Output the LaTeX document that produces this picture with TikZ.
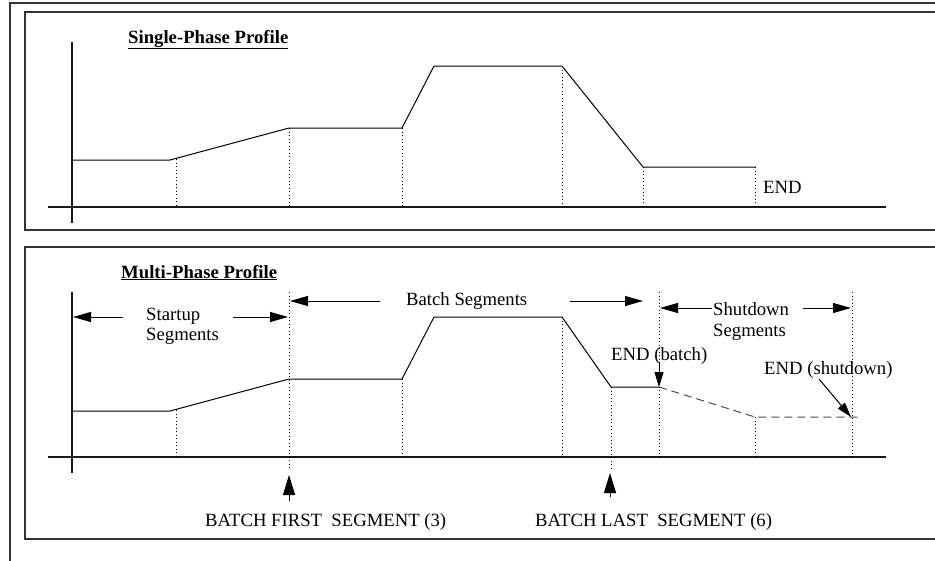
\documentclass[tikz,border=0pt]{standalone}
\usepackage{fontspec}
\setmainfont{Liberation Serif}
\usetikzlibrary{arrows.meta}
\begin{document}
\begin{tikzpicture}[x=1pt,y=-1pt,
  frame/.style={line width=1.3pt, draw=black!80},
  axis/.style={line width=1.1pt, draw=black!90},
  prof/.style={line width=1pt, line join=round},
  dotv/.style={line width=0.8pt, dash pattern=on 1.3pt off 2.2pt},
  dashprof/.style={line width=1pt, dash pattern=on 8pt off 5pt, draw=black!70},
  lbl/.style={inner sep=0pt, anchor=base west, font=\fontsize{18.7}{20}\selectfont},
  ttl/.style={inner sep=0pt, anchor=base west, font=\fontsize{18.7}{20}\selectfont\bfseries},
  arr/.style={line width=1pt, -{Triangle[length=18pt,width=10pt]}},
  arrs/.style={line width=1pt, -{Triangle[length=15pt,width=9pt]}},
  arrb/.style={line width=1pt, -{Triangle[length=20pt,width=12pt]}},
]
\useasboundingbox (0,0) rectangle (935,560);
% frames
\draw[frame] (10,3) rectangle (950,580);
\draw[frame] (25,12) rectangle (950,230);
\draw[frame] (25,247) rectangle (950,539);

% ---------------- Single-phase ----------------
\node[ttl] (t1) at (128,43) {\underline{Single-Phase Profile}};
\coordinate (y1t) at (72,42);
\coordinate (y1b) at (72,223);
\coordinate (x1l) at (48,207);
\coordinate (x1r) at (886,207);
\draw[axis] (y1t) -- (y1b);
\draw[axis] (x1l) -- (x1r);
\coordinate (a1) at (72,160);
\coordinate (a2) at (170,160);
\coordinate (a3) at (289,128);
\coordinate (a4) at (402,128);
\coordinate (a5) at (434,66);
\coordinate (a6) at (562,66);
\coordinate (a7) at (643,167);
\coordinate (a8) at (756,167);
\draw[prof] (a1) -- (a2) -- (a3) -- (a4) -- (a5) -- (a6) -- (a7) -- (a8);
\foreach \x/\y in {176/159, 289/128, 402/128, 562/66, 643/167, 755/167}
  \draw[dotv] (\x,\y) -- (\x,207);
\node[lbl] (end1) at (763,193) {END};

% ---------------- Multi-phase ----------------
\node[ttl] (t2) at (121,278) {\underline{Multi-Phase Profile}};
\coordinate (y2t) at (72,292);
\coordinate (y2b) at (72,473);
\coordinate (x2l) at (48,457);
\coordinate (x2r) at (886,457);
\draw[axis] (y2t) -- (y2b);
\draw[axis] (x2l) -- (x2r);
\coordinate (b1) at (72,411);
\coordinate (b2) at (170,411);
\coordinate (b3) at (289,379);
\coordinate (b4) at (402,379);
\coordinate (b5) at (434,317);
\coordinate (b6) at (562,317);
\coordinate (b7) at (611,387);
\coordinate (b8) at (659,387);
\coordinate (b9) at (755,417);
\coordinate (b10) at (859,417);
\draw[prof] (b1) -- (b2) -- (b3) -- (b4) -- (b5) -- (b6) -- (b7) -- (b8);
\draw[dashprof] (b8) -- (b9) -- (b10);
% dotted verticals
\draw[dotv] (176,410) -- (176,457);
\draw[dotv] (289,292) -- (289,468);
\draw[dotv] (402,379) -- (402,457);
\draw[dotv] (562,317) -- (562,457);
\draw[dotv] (611,387) -- (611,468);
\draw[dotv] (659,292) -- (659,457);
\draw[dotv] (755,417) -- (755,457);
\draw[dotv] (852,292) -- (852,457);

% startup segments
\node[lbl] (su1) at (146,320) {Startup};
\node[lbl] (su2) at (146,340) {Segments};
\coordinate (sul) at (123,317);
\coordinate (sulT) at (73,317);
\coordinate (sur) at (233,317);
\coordinate (surT) at (288,317);
\draw[arr] (sul) -- (sulT);
\draw[arr] (sur) -- (surT);

% batch segments
\node[lbl] (bs) at (406,305) {Batch Segments};
\coordinate (bsl) at (380,301);
\coordinate (bslT) at (290,301);
\coordinate (bsr) at (570,301);
\coordinate (bsrT) at (643,301);
\draw[arr] (bsl) -- (bslT);
\draw[arr] (bsr) -- (bsrT);

% shutdown segments
\node[lbl] (sd1) at (713,315) {Shutdown};
\node[lbl] (sd2) at (713,336) {Segments};
\coordinate (sdl) at (712,308);
\coordinate (sdlT) at (660,308);
\coordinate (sdr) at (803,308);
\coordinate (sdrT) at (851,308);
\draw[arr] (sdl) -- (sdlT);
\draw[arr] (sdr) -- (sdrT);

% END labels
\node[lbl] (eb) at (611,360) {END (batch)};
\coordinate (ebs) at (659,362);
\draw[arrs] (ebs) -- (b8);
\node[lbl] (es) at (764,374) {END (shutdown)};
\coordinate (ess) at (819,379);
\coordinate (esT) at (851,417);
\draw[arrs] (ess) -- (esT);

% batch first / last
\node[lbl] (bf) at (205,526) {BATCH FIRST\ \ SEGMENT (3)};
\node[lbl] (bl) at (535,526) {BATCH LAST\ \ SEGMENT (6)};
\coordinate (bfs) at (289,501);
\coordinate (bfT) at (289,475);
\coordinate (bls) at (610,497);
\coordinate (blT) at (610,473);
\draw[arrb] (bfs) -- (bfT);
\draw[arrb] (bls) -- (blT);
\end{tikzpicture}
\end{document}
